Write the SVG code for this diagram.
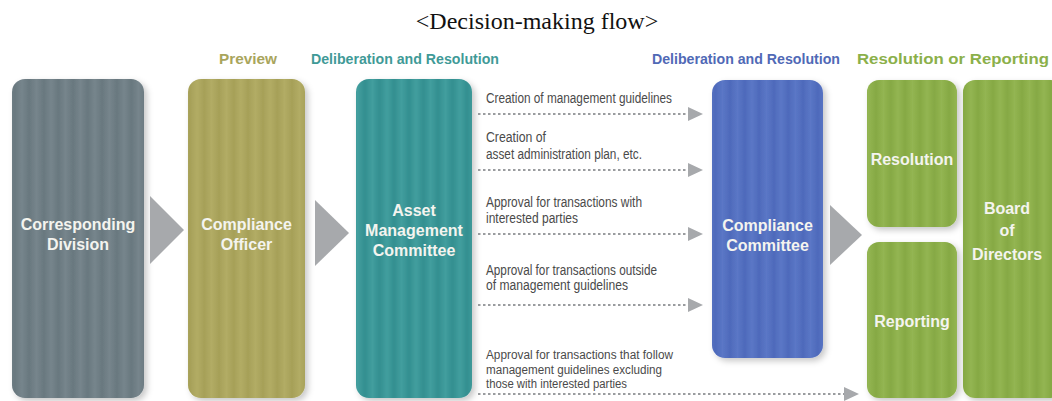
<svg xmlns="http://www.w3.org/2000/svg" width="1052" height="401" viewBox="0 0 1052 401">
  <style>
    .title { font-family: "Liberation Serif", "Times New Roman", serif; font-size: 24px; fill: #111; }
    .hdr { font-family: "Liberation Sans", Arial, sans-serif; font-size: 14px; font-weight: bold; }
    .box-label { font-family: "Liberation Sans", Arial, sans-serif; font-size: 16px; font-weight: bold; fill: #f4f4ef; text-anchor: middle; }
    .flow-label { font-family: "Liberation Sans", Arial, sans-serif; font-size: 14px; fill: #4a4a4a; }
    .flow-small { font-size: 12.5px; }
    .dotted { stroke: #9a9c9f; stroke-width: 2; stroke-dasharray: 2.5 2.5; fill: none; }
    .step-arrow { fill: #a7a9ac; }
  </style>
  <defs>
    <filter id="shadow" x="-10%" y="-10%" width="130%" height="130%">
      <feDropShadow dx="3" dy="3" stdDeviation="3" flood-color="#000" flood-opacity="0.22"/>
    </filter>
    <!-- soft vertical stripe fills -->
    <linearGradient id="g-slate" x1="0" x2="1" y1="0" y2="0">
      <stop offset="0" stop-color="#69787f"/><stop offset="0.5" stop-color="#76858c"/><stop offset="1" stop-color="#69787f"/>
    </linearGradient>
    <linearGradient id="g-olive" x1="0" x2="1" y1="0" y2="0">
      <stop offset="0" stop-color="#a6a058"/><stop offset="0.5" stop-color="#b2ac65"/><stop offset="1" stop-color="#a6a058"/>
    </linearGradient>
    <linearGradient id="g-teal" x1="0" x2="1" y1="0" y2="0">
      <stop offset="0" stop-color="#338f90"/><stop offset="0.5" stop-color="#429e9e"/><stop offset="1" stop-color="#338f90"/>
    </linearGradient>
    <linearGradient id="g-blue" x1="0" x2="1" y1="0" y2="0">
      <stop offset="0" stop-color="#4e6abb"/><stop offset="0.5" stop-color="#5b77c6"/><stop offset="1" stop-color="#4e6abb"/>
    </linearGradient>
    <linearGradient id="g-green" x1="0" x2="1" y1="0" y2="0">
      <stop offset="0" stop-color="#86a944"/><stop offset="0.5" stop-color="#93b552"/><stop offset="1" stop-color="#86a944"/>
    </linearGradient>
    <pattern id="p-slate" patternUnits="userSpaceOnUse" width="14.6" height="10"><rect width="14.6" height="10" fill="url(#g-slate)"/></pattern>
    <pattern id="p-olive" patternUnits="userSpaceOnUse" width="14.6" height="10"><rect width="14.6" height="10" fill="url(#g-olive)"/></pattern>
    <pattern id="p-teal" patternUnits="userSpaceOnUse" width="14.6" height="10"><rect width="14.6" height="10" fill="url(#g-teal)"/></pattern>
    <pattern id="p-blue" patternUnits="userSpaceOnUse" width="14.6" height="10"><rect width="14.6" height="10" fill="url(#g-blue)"/></pattern>
    <pattern id="p-green" patternUnits="userSpaceOnUse" width="14.6" height="10"><rect width="14.6" height="10" fill="url(#g-green)"/></pattern>
    <marker id="head" markerUnits="userSpaceOnUse" markerWidth="16" markerHeight="14" refX="0" refY="7" orient="auto">
      <path d="M0,0 L15,7 L0,14 Z" fill="#a7a9ac"/>
    </marker>
  </defs>

  <text class="title" x="537" y="29" text-anchor="middle">&lt;Decision-making flow&gt;</text>

  <!-- column headings -->
  <g id="headings">
    <text class="hdr" x="248" y="64" text-anchor="middle" fill="#a9a55c" textLength="58" lengthAdjust="spacingAndGlyphs">Preview</text>
    <text class="hdr" x="405" y="64" text-anchor="middle" fill="#3f9a97" textLength="188" lengthAdjust="spacingAndGlyphs">Deliberation and Resolution</text>
    <text class="hdr" x="746" y="64" text-anchor="middle" fill="#5069b6" textLength="188" lengthAdjust="spacingAndGlyphs">Deliberation and Resolution</text>
    <text class="hdr" x="1049" y="64" text-anchor="end" fill="#8bb04a" textLength="192" lengthAdjust="spacingAndGlyphs">Resolution or Reporting</text>
  </g>

  <g id="corresponding-division">
    <rect x="12" y="79" width="132" height="319" rx="13" fill="url(#p-slate)" filter="url(#shadow)"/>
    <text class="box-label" x="78" y="230">Corresponding</text>
    <text class="box-label" x="78" y="250">Division</text>
  </g>

  <g id="compliance-officer">
    <rect x="188" y="79" width="117" height="319" rx="13" fill="url(#p-olive)" filter="url(#shadow)"/>
    <text class="box-label" x="246.5" y="230">Compliance</text>
    <text class="box-label" x="246.5" y="250">Officer</text>
  </g>

  <g id="asset-management-committee">
    <rect x="356" y="79" width="116" height="319" rx="13" fill="url(#p-teal)" filter="url(#shadow)"/>
    <text class="box-label" x="414" y="216">Asset</text>
    <text class="box-label" x="414" y="236">Management</text>
    <text class="box-label" x="414" y="256">Committee</text>
  </g>

  <g id="compliance-committee">
    <rect x="712" y="80" width="111" height="278" rx="13" fill="url(#p-blue)" filter="url(#shadow)"/>
    <text class="box-label" x="767.5" y="231">Compliance</text>
    <text class="box-label" x="767.5" y="251">Committee</text>
  </g>

  <g id="resolution">
    <rect x="867" y="80" width="90" height="147" rx="12" fill="url(#p-green)" filter="url(#shadow)"/>
    <text class="box-label" x="912" y="165">Resolution</text>
  </g>

  <g id="reporting">
    <rect x="867" y="242" width="90" height="156" rx="12" fill="url(#p-green)" filter="url(#shadow)"/>
    <text class="box-label" x="912" y="327">Reporting</text>
  </g>

  <g id="board-of-directors">
    <rect x="963" y="80" width="100" height="318" rx="12" fill="url(#p-green)" filter="url(#shadow)"/>
    <text class="box-label" x="1007" y="214">Board</text>
    <text class="box-label" x="1007" y="236">of</text>
    <text class="box-label" x="1007" y="260">Directors</text>
  </g>

  <g id="connectors">
    <!-- step arrows between stages -->
    <polygon class="step-arrow" points="150,196 184,230 150,264"/>
    <polygon class="step-arrow" points="315,200 349,233 315,266"/>
    <polygon class="step-arrow" points="830,205 862,235 830,265"/>

    <!-- dotted routes from the Asset Management Committee -->
    <line class="dotted" x1="478" y1="114" x2="688" y2="114" marker-end="url(#head)"/>
    <line class="dotted" x1="478" y1="170" x2="688" y2="170" marker-end="url(#head)"/>
    <line class="dotted" x1="478" y1="234" x2="688" y2="234" marker-end="url(#head)"/>
    <line class="dotted" x1="478" y1="305" x2="688" y2="305" marker-end="url(#head)"/>
    <line class="dotted" x1="478" y1="394" x2="844" y2="394" marker-end="url(#head)"/>

    <text class="flow-label" x="486" y="103" textLength="186" lengthAdjust="spacingAndGlyphs">Creation of management guidelines</text>
    <text class="flow-label" x="486" y="142" textLength="60" lengthAdjust="spacingAndGlyphs">Creation of</text>
    <text class="flow-label" x="486" y="159" textLength="156" lengthAdjust="spacingAndGlyphs">asset administration plan, etc.</text>
    <text class="flow-label" x="486" y="207" textLength="156" lengthAdjust="spacingAndGlyphs">Approval for transactions with</text>
    <text class="flow-label" x="486" y="223" textLength="92" lengthAdjust="spacingAndGlyphs">interested parties</text>
    <text class="flow-label" x="486" y="275" textLength="171" lengthAdjust="spacingAndGlyphs">Approval for transactions outside</text>
    <text class="flow-label" x="486" y="290" textLength="142" lengthAdjust="spacingAndGlyphs">of management guidelines</text>
    <text class="flow-label flow-small" x="486" y="359" textLength="187" lengthAdjust="spacingAndGlyphs">Approval for transactions that follow</text>
    <text class="flow-label flow-small" x="486" y="373.5" textLength="176" lengthAdjust="spacingAndGlyphs">management guidelines excluding</text>
    <text class="flow-label flow-small" x="486" y="388" textLength="141" lengthAdjust="spacingAndGlyphs">those with interested parties</text>
  </g>
</svg>
